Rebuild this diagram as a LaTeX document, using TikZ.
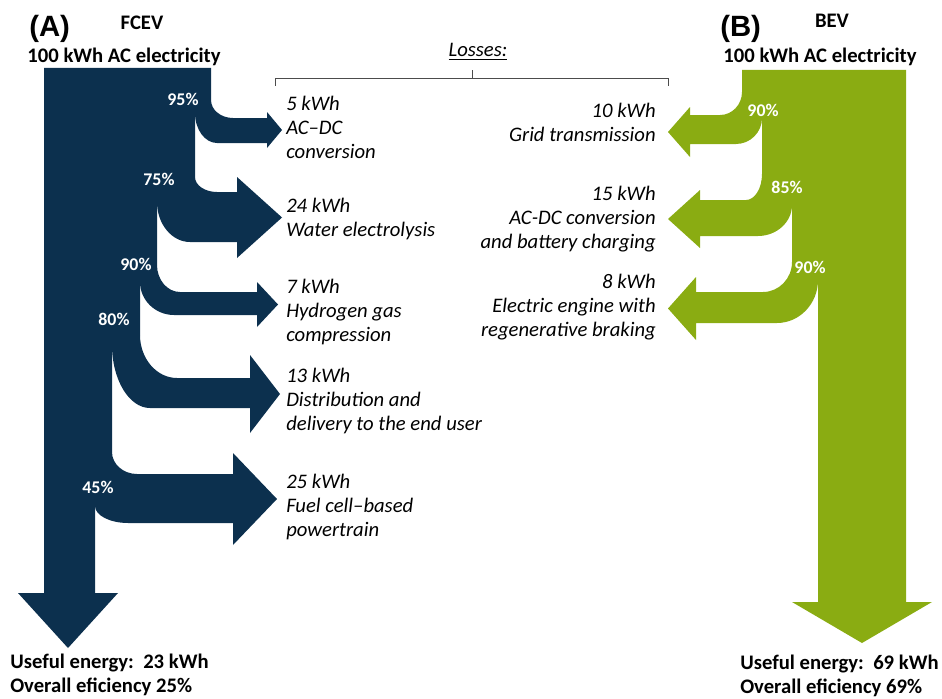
\documentclass[tikz,border=0pt]{standalone}
\usepackage{fontspec}
\setmainfont{Carlito}
\newfontfamily\panelfont{Liberation Sans}
\usepackage{tikz}
\usetikzlibrary{positioning,calc}
\definecolor{fcevblue}{RGB}{12,48,78}
\definecolor{bevgreen}{RGB}{138,172,18}

\begin{document}
\begin{tikzpicture}[x=0.75pt, y=-0.75pt,
    title/.style={font=\fontsize{15.5}{18}\selectfont\bfseries, inner sep=0pt},
    loss/.style={font=\fontsize{15.5}{18}\selectfont\itshape, inner sep=0pt},
    share/.style={font=\fontsize{13.4}{16}\selectfont\bfseries, text=white, inner sep=0pt},
    panel/.style={font=\fontsize{22}{26}\selectfont\panelfont\bfseries, inner sep=0pt}]
    \useasboundingbox (0,0) rectangle (942,699);

    % Trunk (A)
    \fill[fcevblue] (44,68) -- (211,68) -- (211,100) -- (195,100) -- (195,177) -- (157,177)
        -- (157,265) -- (140,265) -- (140,335) -- (112,335) -- (112,452) -- (95,452)
        -- (95,593) -- (118,593) -- (68,648) -- (18,593) -- (44,593) -- cycle;

    % Loss branches (A), going right
    \foreach \xout/\ystart/\rout/\ytop/\xin/\yin/\rin/\ybot/\xhead/\yheadtop/\yheadbot/\xtip in {
        211/100/22/118/195/113/22/143/267/112/148/282,
        195/177/22/192/157/202/33/242/237/177/258/282,
        157/265/23/292/140/282/34/315/257/282/327/278,
        140/335/37/378/112/345/38/408/250/355/433/280,
        112/452/25/474/95/506/33/523/233/453/545/277} {
        \fill[fcevblue] (\xout,\ystart) .. controls +(0,{0.55*(\ytop-\ystart)}) and +({-0.55*\rout},0) .. ({\xout+\rout},\ytop)
            -- (\xhead,\ytop) -- (\xhead,\yheadtop) -- (\xtip,{(\yheadtop+\yheadbot)/2}) -- (\xhead,\yheadbot)
            -- (\xhead,\ybot) -- ({\xin+\rin},\ybot) .. controls +({-0.55*\rin},0) and +(0,{0.55*(\ybot-\yin)}) .. (\xin,\yin)
            -- (\xin,\ystart) -- cycle;
    }

    % Trunk (B)
    \fill[bevgreen] (742,70) -- (906,70) -- (906,602) -- (932,602) -- (862,643) -- (792,602)
        -- (818,602) -- (818,262) -- (792,262) -- (792,174) -- (762,174) -- (762,92) -- (742,92) -- cycle;

    % Loss branches (B), going left
    \foreach \xout/\ystart/\rout/\ytop/\xin/\yin/\rin/\ybot/\xhead/\yheadtop/\yheadbot/\xtip in {
        742/92/22/115/762/118/26/144/690/107/157/668,
        762/174/16/200/792/205/34/236/700/190/248/668,
        792/262/29/292/818/280/41/323/696/277/340/668} {
        \fill[bevgreen] (\xout,\ystart) .. controls +(0,{0.55*(\ytop-\ystart)}) and +({0.55*\rout},0) .. ({\xout-\rout},\ytop)
            -- (\xhead,\ytop) -- (\xhead,\yheadtop) -- (\xtip,{(\yheadtop+\yheadbot)/2}) -- (\xhead,\yheadbot)
            -- (\xhead,\ybot) -- ({\xin-\rin},\ybot) .. controls +({0.55*\rin},0) and +(0,{0.55*(\ybot-\yin)}) .. (\xin,\yin)
            -- (\xin,\ystart) -- cycle;
    }

    % Headings
    \node[panel, anchor=base west] (panelA) at (29,37) {(A)};
    \node[title, anchor=base] (fcev) at (142,30) {FCEV};
    \node[title, anchor=base] (inputA) at (124,63) {100 kWh AC electricity};
    \node[panel, anchor=base west] (panelB) at (720,37) {(B)};
    \node[title, anchor=base] (bev) at (832,28) {BEV};
    \node[title, anchor=base] (inputB) at (820,63) {100 kWh AC electricity};

    % Losses brace
    \node[loss, anchor=base] (losses) at (478,57) {\underline{Losses:}};
    \draw[black!70, line width=0.6pt] (275,86) -- (275,78) -- (668,78) -- (668,86);
    \draw[black!70, line width=0.6pt] (472,78) -- (472,70);

    % Loss labels (placed at the baseline of their last line)
    \foreach \y/\label [count=\i] in {158/{5 kWh\\AC–DC\\conversion}, 236/{24 kWh\\Water electrolysis},
        341/{7 kWh\\Hydrogen gas\\compression}, 430/{13 kWh\\Distribution and\\delivery to the end user},
        536/{25 kWh\\Fuel cell–based\\powertrain}} {
        \node[loss, anchor=base west, align=left] (lossA\i) at (286,\y) {\label};
    }
    \foreach \y/\label [count=\i] in {142/{10 kWh\\Grid transmission}, 248/{15 kWh\\AC-DC conversion\\and battery charging},
        336/{8 kWh\\Electric engine with\\regenerative braking}} {
        \node[loss, anchor=base east, align=right] (lossB\i) at (656,\y) {\label};
    }

    % Shares
    \foreach \x/\y/\pct [count=\i] in {183/105/95, 159/185/75, 136/270/90, 114/325/80, 98/493/45,
        763/117/90, 787/193/85, 810/273/90} {
        \node[share, anchor=base] (share\i) at (\x,\y) {\pct\%};
    }

    % Results
    \node[title, anchor=base west, align=left] (resultA) at (10,692) {Useful energy:\ \ 23 kWh\\Overall eficiency 25\%};
    \node[title, anchor=base west, align=left] (resultB) at (740,693) {Useful energy:\ \ 69 kWh\\Overall eficiency 69\%};
\end{tikzpicture}
\end{document}
